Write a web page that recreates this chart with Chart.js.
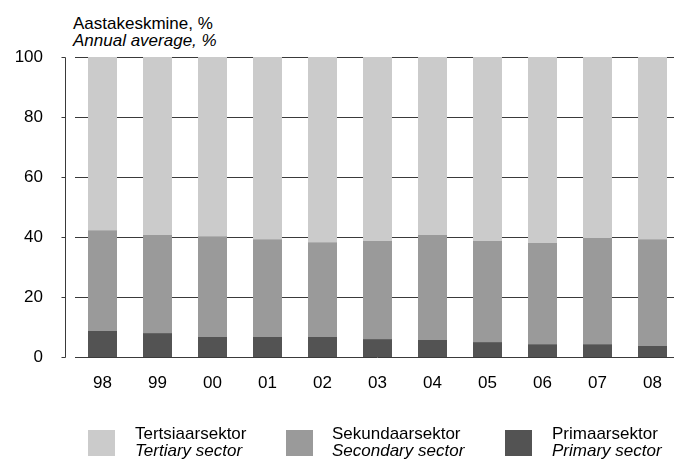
<!DOCTYPE html>
<html>
<head>
<meta charset="utf-8">
<script src="https://cdn.jsdelivr.net/npm/chart.js@4/dist/chart.umd.min.js"></script>
<style>
  html, body { margin: 0; padding: 0; background: #fff; overflow: hidden; }
  body { width: 674px; height: 463px; position: relative; font-family: "Liberation Sans", Arial, sans-serif; color: #000; }
  #wrap { position: absolute; left: 0; top: 0; width: 680px; height: 463px; }
  .unit { position: absolute; left: 73px; top: 14.6px; font-size: 17px; line-height: 17px; white-space: nowrap; }
  .unit i, .leg i { font-style: italic; display: block; }
  .leg { position: absolute; top: 430px; height: 26px; }
  .leg .box { position: absolute; left: 0; top: 0; width: 27px; height: 26px; }
  .leg .txt { position: absolute; top: -5.4px; font-size: 17px; line-height: 17px; white-space: nowrap; }
</style>
</head>
<body>
<div class="unit">Aastakeskmine, %<i>Annual average, %</i></div>
<div id="wrap"><canvas id="c" width="680" height="463"></canvas></div>
<div id="legend"></div>
<script>
// Years (two-digit labels)
const years = ['98', '99', '00', '01', '02', '03', '04', '05', '06', '07', '08'];

// Employment shares by sector, annual average %
const primarySector   = [8.7, 8.0, 6.7, 6.7, 6.7, 6.0, 5.7, 5.0, 4.3, 4.3, 3.7];
const secondarySector = [33.6, 32.7, 33.6, 32.6, 31.6, 32.7, 35.0, 33.7, 33.7, 35.4, 35.6];
const tertiarySector  = [57.7, 59.3, 59.7, 60.7, 61.7, 61.3, 59.3, 61.3, 62.0, 60.3, 60.7];

// Y-axis ticks
const yTicks = [0, 20, 40, 60, 80, 100];

// Series names (Estonian / English)
const namesEt = ['Tertsiaarsektor', 'Sekundaarsektor', 'Primaarsektor'];
const namesEn = ['Tertiary sector', 'Secondary sector', 'Primary sector'];

const colPrimary = '#535353', colSecondary = '#9a9a9a', colTertiary = '#cbcbcb';
const lineCol = '#3a3a3a';
const FONT = '"Liberation Sans", Arial, sans-serif';

// Horizontal rules behind the bars, plus a detached left axis with outward ticks
const axisLine = {
  id: 'axisLine',
  beforeDatasetsDraw(chart) {
    const y = chart.scales.y, ctx = chart.ctx, a = chart.chartArea;
    ctx.save();
    ctx.strokeStyle = lineCol;
    ctx.lineWidth = 1;
    ctx.beginPath();
    yTicks.forEach(v => {
      const py = Math.round(y.getPixelForValue(v)) + 0.5;
      ctx.moveTo(a.left, py);
      ctx.lineTo(a.right, py);
    });
    ctx.stroke();
    ctx.restore();
  },
  afterDraw(chart) {
    const y = chart.scales.y, ctx = chart.ctx;
    const x = chart.chartArea.left - 9.5;
    ctx.save();
    ctx.strokeStyle = lineCol;
    ctx.lineWidth = 1;
    ctx.beginPath();
    ctx.moveTo(x, Math.round(y.getPixelForValue(100)) + 0.5);
    ctx.lineTo(x, Math.round(y.getPixelForValue(0)) + 0.5);
    yTicks.forEach(v => {
      const py = Math.round(y.getPixelForValue(v)) + 0.5;
      ctx.moveTo(x - 4, py);
      ctx.lineTo(x, py);
    });
    ctx.stroke();
    ctx.restore();
  }
};

const barOpts = { barPercentage: 29 / 55, categoryPercentage: 1, borderWidth: 0, stack: 's' };

new Chart(document.getElementById('c'), {
  type: 'bar',
  data: {
    labels: years,
    datasets: [
      Object.assign({ label: namesEn[2], data: primarySector, backgroundColor: colPrimary }, barOpts),
      Object.assign({ label: namesEn[1], data: secondarySector, backgroundColor: colSecondary }, barOpts),
      Object.assign({ label: namesEn[0], data: tertiarySector, backgroundColor: colTertiary }, barOpts)
    ]
  },
  options: {
    responsive: false,
    animation: false,
    devicePixelRatio: 1,
    layout: { padding: { top: 57, bottom: 60.5, left: 0, right: 0 } },
    plugins: { legend: { display: false }, tooltip: { enabled: false } },
    scales: {
      x: {
        stacked: true,
        grid: { display: false },
        border: { display: false },
        ticks: { color: '#000', font: { family: FONT, size: 17 }, padding: 8.5, maxRotation: 0 }
      },
      y: {
        stacked: true,
        min: 0, max: 100,
        afterBuildTicks(scale) { scale.ticks = yTicks.map(v => ({ value: v })); },
        afterFit(scale) { scale.width = 75; },
        grid: { display: false, drawTicks: false },
        border: { display: false },
        ticks: { color: '#000', font: { family: FONT, size: 17 }, padding: 32 }
      }
    }
  },
  plugins: [axisLine]
});

// Two-line legend below the plot
const legendPos = [
  { box: 88, txt: 135, color: colTertiary },
  { box: 286, txt: 332, color: colSecondary },
  { box: 505, txt: 552, color: colPrimary }
];
const legend = document.getElementById('legend');
namesEt.forEach((n, i) => {
  const p = legendPos[i];
  const el = document.createElement('div');
  el.className = 'leg';
  el.style.left = p.box + 'px';
  el.innerHTML = '<div class="box" style="background:' + p.color + '"></div>' +
    '<div class="txt" style="left:' + (p.txt - p.box) + 'px">' + n + '<i>' + namesEn[i] + '</i></div>';
  legend.appendChild(el);
});
</script>
</body>
</html>
